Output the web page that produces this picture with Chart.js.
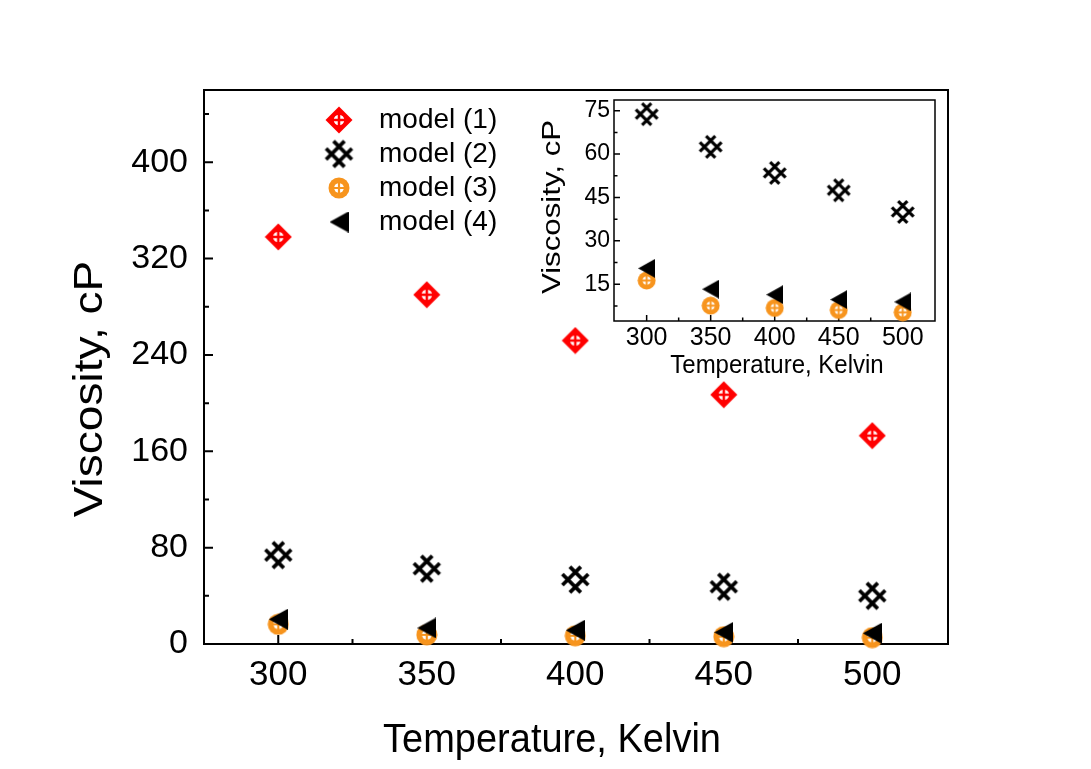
<!DOCTYPE html>
<html><head><meta charset="utf-8">
<script src="https://cdn.jsdelivr.net/npm/chart.js@4.4.1/dist/chart.umd.min.js"></script>
<style>
html,body{margin:0;padding:0;background:#fff;}
#wrap{position:relative;width:1091px;height:769px;background:#fff;}
#main{position:absolute;left:0;top:0;}
#inset{position:absolute;left:520px;top:80px;}
</style></head><body>
<div id="wrap"><canvas id="main" width="1091" height="769"></canvas><canvas id="inset" width="440" height="310"></canvas></div>
<script>
// ---- data ----
const temperatures = [300, 350, 400, 450, 500];
const seriesNames = ['model (1)', 'model (2)', 'model (3)', 'model (4)'];
const model1 = [338, 290, 252, 207, 173];
const model2 = [73.8, 62.5, 53.5, 47.5, 40];
const model3 = [16.3, 7.6, 6.8, 6.1, 5.3];
const model4 = [20.5, 13.3, 11.4, 9.7, 8.9];
const mainYTicks = [0, 80, 160, 240, 320, 400];
const mainYMinor = [40, 120, 200, 280, 360, 440];
const xTicks = [300, 350, 400, 450, 500];
const xMinor = [325, 375, 425, 475];
const insetYTicks = [15, 30, 45, 60, 75];
const insetYMinor = [7.5, 22.5, 37.5, 52.5, 67.5];

const FONT = "'Liberation Sans', Arial, sans-serif";
const RED = '#ff0000', ORANGE = '#f7941d', BLACK = '#000000';
Chart.defaults.font.family = FONT;
Chart.defaults.color = '#000';

// ---- marker images ----
function mk(w, h, draw) { const c = document.createElement('canvas'); c.width = w; c.height = h; draw(c.getContext('2d'), w, h); return c; }
function diamondMarker(s) {
  return mk(s, s, g => {
    const c = s / 2;
    g.fillStyle = RED; g.beginPath();
    g.moveTo(c, 0.5); g.lineTo(s - 0.5, c); g.lineTo(c, s - 0.5); g.lineTo(0.5, c); g.closePath(); g.fill();
    g.fillStyle = '#fff'; g.beginPath(); g.arc(c, c, s * 0.19, 0, 2 * Math.PI); g.fill();
    g.strokeStyle = RED; g.lineWidth = s * 0.09; g.beginPath();
    g.moveTo(c - s * 0.22, c); g.lineTo(c + s * 0.22, c); g.moveTo(c, c - s * 0.22); g.lineTo(c, c + s * 0.22); g.stroke();
  });
}
function latticeMarker(s) {
  return mk(s, s, g => {
    const c = s / 2; g.translate(c, c); g.rotate(Math.PI / 4);
    g.strokeStyle = BLACK; g.lineWidth = s * 0.12;
    const a = s * 0.17, L = s * 0.42;
    g.beginPath();
    g.moveTo(-a, -L); g.lineTo(-a, L); g.moveTo(a, -L); g.lineTo(a, L);
    g.moveTo(-L, -a); g.lineTo(L, -a); g.moveTo(-L, a); g.lineTo(L, a);
    g.stroke();
  });
}
function orangeMarker(s) {
  return mk(s, s, g => {
    const c = s / 2;
    g.fillStyle = ORANGE; g.beginPath(); g.arc(c, c, c - 0.5, 0, 2 * Math.PI); g.fill();
    g.fillStyle = '#fff'; g.beginPath(); g.arc(c, c, s * 0.22, 0, 2 * Math.PI); g.fill();
    g.strokeStyle = ORANGE; g.lineWidth = s * 0.1; g.beginPath();
    g.moveTo(c - s * 0.25, c); g.lineTo(c + s * 0.25, c); g.moveTo(c, c - s * 0.25); g.lineTo(c, c + s * 0.25); g.stroke();
  });
}
function triMarker(w, h) {
  return mk(w, h, g => { g.fillStyle = BLACK; g.beginPath(); g.moveTo(0, h / 2); g.lineTo(w, 0); g.lineTo(w, h); g.closePath(); g.fill(); });
}

function pts(vals) { return temperatures.map((t, i) => ({ x: t, y: vals[i] })); }

function makeDatasets(big) {
  const ds = [];
  if (big) ds.push({ label: seriesNames[0], data: pts(model1), pointStyle: diamondMarker(28), pointRadius: 14, clip: false, order: 3 });
  ds.push({ label: seriesNames[1], data: pts(model2), pointStyle: latticeMarker(big ? 31 : 26), pointRadius: 14, clip: false, order: 2 });
  ds.push({ label: seriesNames[2], data: pts(model3), pointStyle: orangeMarker(big ? 22 : 19), pointRadius: 11, clip: false, order: 1 });
  ds.push({ label: seriesNames[3], data: pts(model4), pointStyle: big ? triMarker(19, 21) : triMarker(17, 19), pointRadius: 10, clip: false, order: 0 });
  return ds;
}

function decor(o) {
  return {
    id: 'decor',
    beforeDatasetsDraw(chart) {
      const { ctx, chartArea: a, scales: { x, y } } = chart;
      ctx.save();
      ctx.strokeStyle = '#000'; ctx.lineWidth = o.lw;
      ctx.strokeRect(a.left, a.top, a.right - a.left, a.bottom - a.top);
      ctx.beginPath();
      o.xMajor.forEach(v => { const p = x.getPixelForValue(v); ctx.moveTo(p, a.bottom); ctx.lineTo(p, a.bottom - o.major); });
      o.xMinor.forEach(v => { const p = x.getPixelForValue(v); ctx.moveTo(p, a.bottom); ctx.lineTo(p, a.bottom - o.minor); });
      o.yMajor.forEach(v => { const p = y.getPixelForValue(v); ctx.moveTo(a.left, p); ctx.lineTo(a.left + o.major, p); });
      o.yMinor.forEach(v => { const p = y.getPixelForValue(v); ctx.moveTo(a.left, p); ctx.lineTo(a.left + o.minor, p); });
      ctx.stroke();
      ctx.restore();
    },
    afterDraw(chart) {
      const ctx = chart.ctx;
      ctx.save();
      ctx.fillStyle = '#000'; ctx.textAlign = 'center'; ctx.textBaseline = 'middle';
      ctx.save();
      ctx.translate(o.xTitle.x, o.xTitle.y); ctx.scale(1, o.xTitle.vstretch || 1);
      ctx.font = o.xTitle.size + 'px ' + FONT;
      ctx.fillText(o.xTitle.text, 0, 0);
      ctx.restore();
      ctx.save();
      ctx.translate(o.yTitle.x, o.yTitle.y); ctx.rotate(-Math.PI / 2);
      ctx.scale(o.yTitle.stretch || 1, 1);
      ctx.font = o.yTitle.size + 'px ' + FONT;
      ctx.fillText(o.yTitle.text, 0, 0);
      ctx.restore();
      if (o.legend) {
        const L = o.legend;
        ctx.font = L.size + 'px ' + FONT; ctx.textAlign = 'left';
        chart.data.datasets.forEach((d, i) => {
          const yy = L.y0 + i * L.dy;
          const img = d.pointStyle;
          ctx.drawImage(img, L.mx - img.width / 2, yy - img.height / 2);
          ctx.fillText(d.label, L.tx, yy);
        });
      }
      ctx.restore();
    }
  };
}

// ---- main chart ----
new Chart(document.getElementById('main'), {
  type: 'scatter',
  data: { datasets: makeDatasets(true) },
  options: {
    responsive: false, animation: false, devicePixelRatio: 1,
    layout: { padding: { top: 90, right: 143, left: 0, bottom: 0 } },
    plugins: { legend: { display: false }, tooltip: { enabled: false } },
    scales: {
      x: {
        type: 'linear', min: 275, max: 525.5,
        afterBuildTicks: s => { s.ticks = xTicks.map(v => ({ value: v })); },
        afterFit: s => { s.height = 125; },
        grid: { display: false, drawTicks: false }, border: { display: false },
        ticks: { font: { size: 35 }, color: '#000', padding: 10, maxRotation: 0, autoSkip: false }
      },
      y: {
        type: 'linear', min: 0, max: 460,
        afterBuildTicks: s => { s.ticks = mainYTicks.map(v => ({ value: v })); },
        afterFit: s => { s.width = 204; },
        grid: { display: false, drawTicks: false }, border: { display: false },
        ticks: { font: { size: 34 }, color: '#000', padding: 16, autoSkip: false }
      }
    }
  },
  plugins: [decor({
    lw: 2, major: 9, minor: 5,
    xMajor: xTicks, xMinor: xMinor, yMajor: mainYTicks, yMinor: mainYMinor,
    xTitle: { text: 'Temperature, Kelvin', x: 552, y: 741, size: 38, vstretch: 1.08 },
    yTitle: { text: 'Viscosity, cP', x: 91, y: 389, size: 40, stretch: 1.15 },
    legend: { mx: 339, tx: 379, y0: 120, dy: 34, size: 28 }
  })]
});

// ---- inset chart ----
new Chart(document.getElementById('inset'), {
  type: 'scatter',
  data: { datasets: makeDatasets(false) },
  options: {
    responsive: false, animation: false, devicePixelRatio: 1,
    layout: { padding: { top: 20, right: 25, left: 0, bottom: 0 } },
    plugins: { legend: { display: false }, tooltip: { enabled: false } },
    scales: {
      x: {
        type: 'linear', min: 274.5, max: 525.2,
        afterBuildTicks: s => { s.ticks = xTicks.map(v => ({ value: v })); },
        afterFit: s => { s.height = 69; },
        grid: { display: false, drawTicks: false }, border: { display: false },
        ticks: { font: { size: 25 }, color: '#000', padding: 2, maxRotation: 0, autoSkip: false }
      },
      y: {
        type: 'linear', min: 2.3, max: 78.7,
        afterBuildTicks: s => { s.ticks = insetYTicks.map(v => ({ value: v })); },
        afterFit: s => { s.width = 94; },
        grid: { display: false, drawTicks: false }, border: { display: false },
        ticks: { font: { size: 23 }, color: '#000', padding: 4, autoSkip: false }
      }
    }
  },
  plugins: [decor({
    lw: 1.5, major: 6, minor: 3.5,
    xMajor: xTicks, xMinor: xMinor, yMajor: insetYTicks, yMinor: insetYMinor,
    xTitle: { text: 'Temperature, Kelvin', x: 257, y: 286, size: 24, vstretch: 1.1 },
    yTitle: { text: 'Viscosity, cP', x: 33, y: 127, size: 25, stretch: 1.25 }
  })]
});
</script>
</body></html>
